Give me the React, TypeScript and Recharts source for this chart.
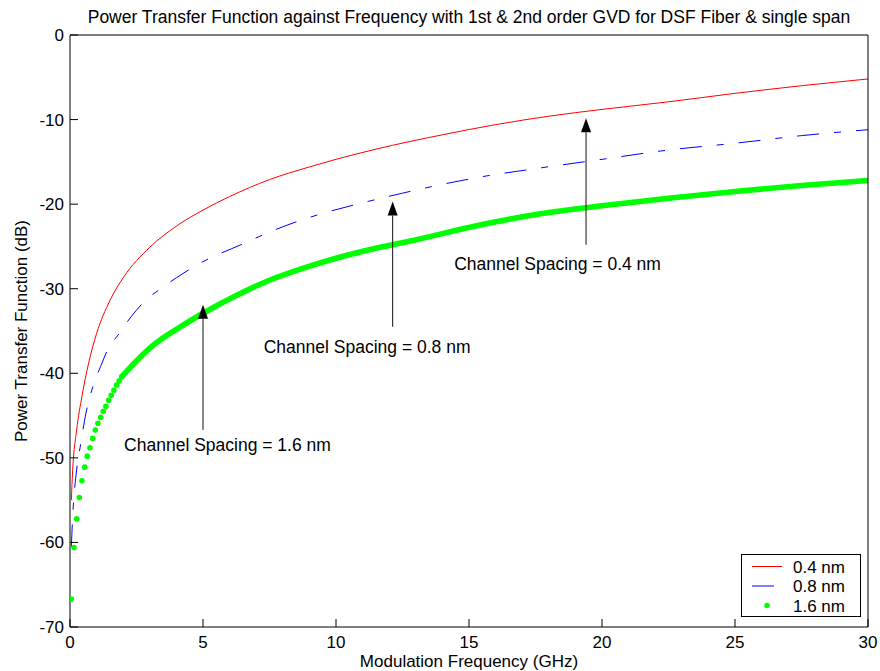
import React from 'react';
import {
  ComposedChart,
  Line,
  XAxis,
  YAxis,
  ReferenceLine,
  ReferenceDot,
  Legend,
} from 'recharts';

// ---- axis ticks ----
const FREQ_TICKS = [0, 5, 10, 15, 20, 25, 30];
const DB_TICKS = [-70, -60, -50, -40, -30, -20, -10, 0];

// ---- 0.4 nm channel spacing ----
const freq04 = [0.05, 0.1, 0.25, 0.45, 0.7, 1.0, 1.5, 2.0, 3.0, 4.0, 5.0, 6.0, 7.5, 9.0, 10.0, 11.5, 14.0, 16.0, 18.0, 20.0, 22.5, 25.0, 27.5, 30.0];
const ptf04 = [-55.0, -51.5, -46.7, -42.7, -38.8, -35.3, -31.4, -28.7, -25.1, -22.6, -20.7, -19.1, -17.1, -15.6, -14.7, -13.5, -11.8, -10.6, -9.6, -8.8, -7.9, -6.9, -6.0, -5.2];

// ---- 0.8 nm channel spacing ----
const freq08 = [0.05, 0.1, 0.25, 0.4, 0.6, 0.9, 1.15, 1.45, 1.8, 2.3, 2.8, 3.5, 4.0, 5.0, 6.5, 7.5, 8.5, 9.6, 10.8, 12.5, 15.5, 17.5, 20.0, 22.5, 25.0, 27.5, 30.0];
const ptf08 = [-60.5, -57.0, -51.4, -48.4, -44.7, -41.2, -39.2, -37.0, -35.5, -33.3, -31.5, -29.8, -28.7, -26.8, -24.7, -23.3, -22.1, -21.0, -20.0, -18.7, -16.75, -15.8, -14.7, -13.6, -12.8, -11.9, -11.2];

// ---- 1.6 nm channel spacing: sparse low-frequency samples ----
const freq16Low = [0.05, 0.15, 0.25, 0.35, 0.45, 0.55, 0.65, 0.75, 0.85, 0.95, 1.05, 1.15, 1.25, 1.35, 1.45, 1.55, 1.65, 1.75, 1.85, 1.95];
const ptf16Low = [-66.7, -60.6, -57.2, -54.7, -52.7, -51.1, -49.8, -48.8, -47.7, -46.7, -45.9, -45.2, -44.5, -43.9, -43.2, -42.6, -42.0, -41.4, -40.9, -40.4];

// ---- 1.6 nm channel spacing: dense samples that merge into a band ----
const freq16 = [1.95, 2.45, 2.8, 3.2, 3.6, 4.0, 5.0, 6.25, 7.5, 8.75, 10.0, 11.25, 12.75, 15.5, 18.0, 20.0, 22.5, 25.0, 27.5, 30.0];
const ptf16 = [-40.4, -38.7, -37.6, -36.5, -35.6, -34.8, -32.9, -30.8, -29.0, -27.6, -26.4, -25.4, -24.4, -22.4, -21.0, -20.2, -19.3, -18.5, -17.8, -17.2];

// ---- annotations ----
const SPACING_NAMES = ['0.4 nm', '0.8 nm', '1.6 nm'];
const arrowFreq = [19.4, 12.13, 5.0];
const arrowBaseDb = [-24.8, -34.5, -46.7];
const arrowTipDb = [-9.85, -19.7, -31.9];
const labelFreq = [18.33, 11.17, 5.92];
const labelDb = [-27.1, -36.9, -48.5];

const TITLE = 'Power Transfer Function against Frequency with 1st & 2nd order GVD for DSF Fiber & single span';
const X_LABEL = 'Modulation Frequency (GHz)';
const Y_LABEL = 'Power Transfer Function (dB)';

const FONT = '"Liberation Sans", Arial, Helvetica, sans-serif';
const RED = '#ff0000';
const BLUE = '#0000ff';
const GREEN = '#00ff00';
const DASH = '22 15 7 15';

const zip = (xs: number[], ys: number[]) => xs.map((f, i) => ({ f, v: ys[i] }));
const data04 = zip(freq04, ptf04);
const data08 = zip(freq08, ptf08);
const data16Low = zip(freq16Low, ptf16Low);
const data16 = zip(freq16, ptf16);

const TitleLabel = (props: any) => {
  const vb = props.viewBox || {};
  return (
    <text x={vb.x + vb.width / 2} y={23} textAnchor="middle" fontFamily={FONT} fontSize={17.5} fill="#000">
      {TITLE}
    </text>
  );
};

const XLabel = (props: any) => {
  const vb = props.viewBox || {};
  return (
    <text x={vb.x + vb.width / 2} y={vb.y + 40} textAnchor="middle" fontFamily={FONT} fontSize={17} fill="#000">
      {X_LABEL}
    </text>
  );
};

const YLabel = (props: any) => {
  const vb = props.viewBox || {};
  const cx = vb.x + 27;
  const cy = vb.y + vb.height / 2;
  return (
    <text x={cx} y={cy} transform={`rotate(-90 ${cx} ${cy})`} textAnchor="middle" fontFamily={FONT} fontSize={17} fill="#000">
      {Y_LABEL}
    </text>
  );
};

const Arrow = (p: any) => {
  const { x1, y1, x2, y2 } = p;
  const headH = 14;
  const headW = 5;
  return (
    <g>
      <line x1={x1} y1={y1} x2={x2} y2={y2 + headH} stroke="#111" strokeWidth={1} />
      <polygon points={`${x2},${y2} ${x2 - headW},${y2 + headH} ${x2 + headW},${y2 + headH}`} fill="#000" />
    </g>
  );
};

const LegendBox = () => (
  <svg width={121} height={64} style={{ display: 'block' }}>
    <rect x={0.5} y={0.5} width={119} height={62} fill="#fff" stroke="#000" strokeWidth={1} />
    {SPACING_NAMES.map((name, i) => {
      const cy = 12.5 + i * 19.5;
      let sample: React.ReactNode;
      if (i === 0) sample = <line x1={11} y1={cy} x2={41} y2={cy} stroke={RED} strokeWidth={1} />;
      else if (i === 1) sample = <line x1={11} y1={cy} x2={41} y2={cy} stroke={BLUE} strokeWidth={1} strokeDasharray={DASH} />;
      else sample = <circle cx={26} cy={cy} r={2.8} fill={GREEN} />;
      return (
        <g key={name}>
          {sample}
          <text x={52} y={cy + 6} fontFamily={FONT} fontSize={17} fill="#000">
            {name}
          </text>
        </g>
      );
    })}
  </svg>
);

export default function App() {
  const tickStyle = { fill: '#000', fontSize: 17, fontFamily: FONT };
  return (
    <div style={{ position: 'absolute', left: 0, top: 0, background: '#fff' }}>
      <ComposedChart width={880} height={671} margin={{ top: 34, right: 11, bottom: 17, left: 0 }}>
        <XAxis
          xAxisId="bottom"
          dataKey="f"
          type="number"
          domain={[0, 30]}
          ticks={FREQ_TICKS}
          interval={0}
          allowDataOverflow
          height={27}
          tickSize={-8}
          tickMargin={17}
          stroke="#000"
          tick={tickStyle}
          label={XLabel}
        />
        <XAxis
          xAxisId="top"
          orientation="top"
          type="number"
          domain={[0, 30]}
          ticks={FREQ_TICKS}
          interval={0}
          allowDataOverflow
          height={1}
          tickSize={-8}
          stroke="#000"
          tick={false}
          label={TitleLabel}
        />
        <YAxis
          yAxisId="left"
          type="number"
          domain={[-70, 0]}
          ticks={DB_TICKS}
          interval={0}
          allowDataOverflow
          width={70}
          tickSize={-8}
          tickMargin={14}
          stroke="#000"
          tick={tickStyle}
          label={YLabel}
        />
        <YAxis
          yAxisId="right"
          orientation="right"
          type="number"
          domain={[-70, 0]}
          ticks={DB_TICKS}
          interval={0}
          allowDataOverflow
          width={1}
          tickSize={-8}
          stroke="#000"
          tick={false}
        />

        <Line
          xAxisId="bottom"
          yAxisId="left"
          data={data16}
          dataKey="v"
          type="monotone"
          stroke={GREEN}
          strokeWidth={5.6}
          strokeLinecap="round"
          strokeLinejoin="round"
          dot={false}
          activeDot={false}
          legendType="none"
          isAnimationActive={false}
        />
        <Line
          xAxisId="bottom"
          yAxisId="left"
          data={data16Low}
          dataKey="v"
          stroke="none"
          dot={{ r: 2.8, fill: GREEN, stroke: 'none' }}
          activeDot={false}
          legendType="none"
          isAnimationActive={false}
        />
        <Line
          xAxisId="bottom"
          yAxisId="left"
          data={data08}
          dataKey="v"
          type="monotone"
          stroke={BLUE}
          strokeWidth={1}
          strokeDasharray={DASH}
          dot={false}
          activeDot={false}
          legendType="none"
          isAnimationActive={false}
        />
        <Line
          xAxisId="bottom"
          yAxisId="left"
          data={data04}
          dataKey="v"
          type="monotone"
          stroke={RED}
          strokeWidth={1}
          dot={false}
          activeDot={false}
          legendType="none"
          isAnimationActive={false}
        />

        {arrowFreq.map((f, i) => (
          <ReferenceLine
            key={`arrow-${i}`}
            xAxisId="bottom"
            yAxisId="left"
            segment={[
              { x: f, y: arrowBaseDb[i] },
              { x: f, y: arrowTipDb[i] },
            ]}
            shape={Arrow}
          />
        ))}
        {labelFreq.map((f, i) => (
          <ReferenceDot
            key={`label-${i}`}
            xAxisId="bottom"
            yAxisId="left"
            x={f}
            y={labelDb[i]}
            r={0}
            shape={(p: any) => (
              <text x={p.cx} y={p.cy} dy="0.35em" textAnchor="middle" fontFamily={FONT} fontSize={17.5} fill="#000">
                {`Channel Spacing = ${SPACING_NAMES[i]}`}
              </text>
            )}
          />
        ))}

        <Legend
          layout="vertical"
          align="center"
          verticalAlign="middle"
          wrapperStyle={{ left: 741, top: 554, width: 121, height: 64 }}
          content={LegendBox}
        />
      </ComposedChart>
    </div>
  );
}
